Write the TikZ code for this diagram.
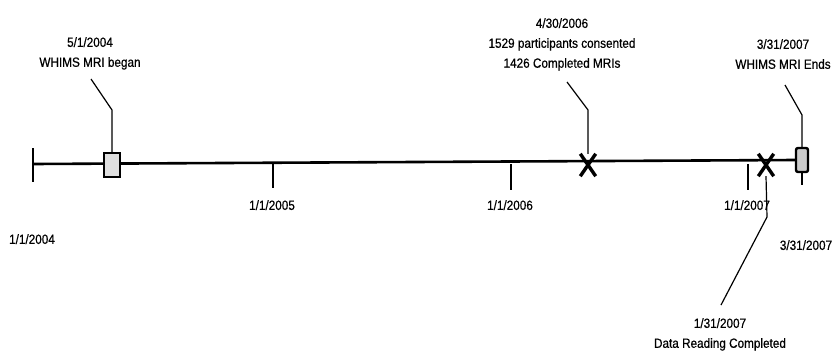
\documentclass[tikz,border=0pt]{standalone}
\usepackage{fontspec}
\setmainfont{Liberation Sans}[FakeStretch=0.88,FakeBold=0.6]
\usetikzlibrary{shapes.misc,positioning,calc,backgrounds}

\begin{document}
\begin{tikzpicture}[
    x=1bp, y=-1bp,
    every node/.style={font=\fontsize{13.4}{20}\selectfont},
    date/.style={align=center, inner sep=0pt, anchor=north},
    startbox/.style={rectangle, draw, line width=1.3bp, fill=gray!25, minimum width=16bp, minimum height=24bp, inner sep=0pt},
    endbox/.style={rectangle, draw, rounded corners=2bp, line width=2.4bp, fill=gray!40, minimum width=12bp, minimum height=24bp, inner sep=0pt},
    xmark/.style={cross out, draw, line width=3.4bp, minimum width=12bp, minimum height=19bp, inner sep=0pt},
    axis/.style={line width=2.6bp},
    tickline/.style={line width=1.6bp},
    leader/.style={line width=1.2bp},
]
\useasboundingbox (0,0) rectangle (832,353);

% Markers on the time line
\node[startbox] (m_begin) at (112,165) {};
\node[xmark] (m_consent) at (588,165) {};
\node[xmark] (m_reading) at (766,165) {};
\node[endbox] (m_end) at (802,160) {};

% Time line
\coordinate (t_start) at (33,164);
\begin{scope}[on background layer]
\draw[axis] (t_start) -- (m_end.west);
\end{scope}
\draw[tickline] ($(t_start)+(0,-16)$) -- ($(t_start)+(0,18)$);

% Year ticks
\coordinate (t_2005) at (273,164);
\coordinate (t_2006) at (511,164);
\coordinate (t_2007) at (748,164);
\draw[tickline] (t_2005) -- ++(0,24);
\draw[tickline] (t_2006) -- ++(0,26);
\draw[tickline] (t_2007) -- ++(0,26);

% Dates under the line
\node[date] (d_2004) at (32,234) {1/1/2004};
\node[date] (d_2005) at (272,200) {1/1/2005};
\node[date] (d_2006) at (510,200) {1/1/2006};
\node[date] (d_2007) at (747,200) {1/1/2007};
\node[date] (d_end) at (806,240) {3/31/2007};

% Event labels
\node[date] (l_begin) at (90,37) {5/1/2004\\WHIMS MRI began};
\node[date] (l_consent) at (562,18) {4/30/2006\\1529 participants consented\\1426 Completed MRIs};
\node[date] (l_end) at (783,39) {3/31/2007\\WHIMS MRI Ends};
\node[date] (l_reading) at (720,318) {1/31/2007\\Data Reading Completed};

% Leaders
\coordinate (b_begin) at (112,110);
\coordinate (e_begin) at (91,79);
\draw[leader] (m_begin.north) -- (b_begin) -- (e_begin);
\coordinate (b_consent) at (588,110);
\coordinate (e_consent) at (567,82);
\draw[leader] (m_consent.north) -- (b_consent) -- (e_consent);
\coordinate (b_end) at (802,115);
\coordinate (e_end) at (785,85);
\draw[leader] (m_end.north) -- (b_end) -- (e_end);
\draw[leader] (m_end.south) -- ++(0,12);
\coordinate (b_reading) at (767,217);
\coordinate (e_reading) at (721,305);
\draw[leader] (m_reading.south) -- (b_reading) -- (e_reading);

\end{tikzpicture}
\end{document}
